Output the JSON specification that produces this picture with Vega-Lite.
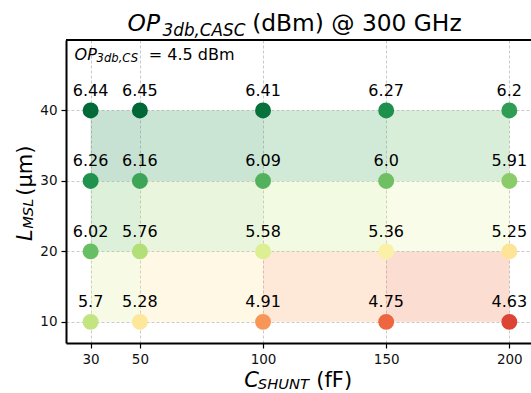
{
  "$schema": "https://vega.github.io/schema/vega-lite/v6.json",
  "width": 465,
  "height": 303,
  "autosize": {"type": "none"},
  "padding": {"left": 66, "top": 40, "right": 0, "bottom": 50},
  "background": "white",
  "config": {
    "view": {"stroke": null},
    "font": "DejaVu Sans",
    "axis": {
      "domainColor": "black", "domainWidth": 2,
      "tickColor": "black", "tickSize": 5, "tickWidth": 1.2,
      "labelFont": "DejaVu Sans", "labelFontSize": 13.5, "labelColor": "#111111", "labelPadding": 4,
      "grid": true, "gridColor": "#bbbbbb", "gridDash": [3, 2], "gridWidth": 0.8,
      "title": null
    }
  },
  "datasets": {
    "points": [
      {"c": 30, "l": 40, "v": 6.44, "label": "6.44"},
      {"c": 50, "l": 40, "v": 6.45, "label": "6.45"},
      {"c": 100, "l": 40, "v": 6.41, "label": "6.41"},
      {"c": 150, "l": 40, "v": 6.27, "label": "6.27"},
      {"c": 200, "l": 40, "v": 6.2, "label": "6.2"},
      {"c": 30, "l": 30, "v": 6.26, "label": "6.26"},
      {"c": 50, "l": 30, "v": 6.16, "label": "6.16"},
      {"c": 100, "l": 30, "v": 6.09, "label": "6.09"},
      {"c": 150, "l": 30, "v": 6.0, "label": "6.0"},
      {"c": 200, "l": 30, "v": 5.91, "label": "5.91"},
      {"c": 30, "l": 20, "v": 6.02, "label": "6.02"},
      {"c": 50, "l": 20, "v": 5.76, "label": "5.76"},
      {"c": 100, "l": 20, "v": 5.58, "label": "5.58"},
      {"c": 150, "l": 20, "v": 5.36, "label": "5.36"},
      {"c": 200, "l": 20, "v": 5.25, "label": "5.25"},
      {"c": 30, "l": 10, "v": 5.7, "label": "5.7"},
      {"c": 50, "l": 10, "v": 5.28, "label": "5.28"},
      {"c": 100, "l": 10, "v": 4.91, "label": "4.91"},
      {"c": 150, "l": 10, "v": 4.75, "label": "4.75"},
      {"c": 200, "l": 10, "v": 4.63, "label": "4.63"}
    ],
    "cells": [
      {"c0": 30, "c1": 50, "l0": 30, "l1": 40, "v": 6.33},
      {"c0": 50, "c1": 100, "l0": 30, "l1": 40, "v": 6.28},
      {"c0": 100, "c1": 150, "l0": 30, "l1": 40, "v": 6.19},
      {"c0": 150, "c1": 200, "l0": 30, "l1": 40, "v": 6.1},
      {"c0": 30, "c1": 50, "l0": 20, "l1": 30, "v": 6.05},
      {"c0": 50, "c1": 100, "l0": 20, "l1": 30, "v": 5.9},
      {"c0": 100, "c1": 150, "l0": 20, "l1": 30, "v": 5.76},
      {"c0": 150, "c1": 200, "l0": 20, "l1": 30, "v": 5.63},
      {"c0": 30, "c1": 50, "l0": 10, "l1": 20, "v": 5.69},
      {"c0": 50, "c1": 100, "l0": 10, "l1": 20, "v": 5.38},
      {"c0": 100, "c1": 150, "l0": 10, "l1": 20, "v": 5.15},
      {"c0": 150, "c1": 200, "l0": 10, "l1": 20, "v": 5.0}
    ]
  },
  "resolve": {"scale": {"color": "independent"}},
  "layer": [
    {
      "data": {"name": "cells"},
      "mark": {"type": "rect", "opacity": 0.24},
      "encoding": {
        "x": {"field": "c0", "type": "quantitative", "scale": {"domain": [20, 208.8], "nice": false, "zero": false},
              "axis": {"values": [30, 50, 100, 150, 200]}},
        "x2": {"field": "c1"},
        "y": {"field": "l0", "type": "quantitative", "scale": {"domain": [7, 50], "nice": false, "zero": false},
              "axis": {"values": [10, 20, 30, 40]}},
        "y2": {"field": "l1"},
        "color": {"field": "v", "type": "quantitative", "scale": {"scheme": "redyellowgreen", "domain": [4.63, 6.45]}, "legend": null}
      }
    },
    {
      "data": {"values": [{}]},
      "mark": {"type": "rule", "color": "black", "strokeWidth": 2},
      "encoding": {"y": {"datum": 50, "type": "quantitative"}}
    },
    {
      "data": {"name": "points"},
      "layer": [
        {
          "mark": {"type": "circle", "size": 254, "opacity": 1},
          "encoding": {
            "x": {"field": "c", "type": "quantitative"},
            "y": {"field": "l", "type": "quantitative"},
            "color": {"field": "v", "type": "quantitative", "scale": {"scheme": "redyellowgreen", "domain": [4.36, 6.45]}, "legend": null}
          }
        },
        {
          "mark": {"type": "text", "fontSize": 16, "baseline": "alphabetic", "dy": -14.5, "color": "black", "font": "DejaVu Sans"},
          "encoding": {
            "x": {"field": "c", "type": "quantitative"},
            "y": {"field": "l", "type": "quantitative"},
            "text": {"field": "label"}
          }
        }
      ]
    },
    {
      "data": {"values": [{}]},
      "layer": [
        {"mark": {"type": "text", "align": "left", "baseline": "alphabetic", "fontSize": 23.3, "fontStyle": "italic", "clip": false, "color": "black"},
         "encoding": {"x": {"datum": 45.0, "type": "quantitative"}, "y": {"datum": 51.28, "type": "quantitative"}, "text": {"value": "OP"}}},
        {"mark": {"type": "text", "align": "left", "baseline": "alphabetic", "fontSize": 16.8, "fontStyle": "italic", "clip": false, "color": "black"},
         "encoding": {"x": {"datum": 59.2, "type": "quantitative"}, "y": {"datum": 50.6, "type": "quantitative"}, "text": {"value": "3db,CASC"}}},
        {"mark": {"type": "text", "align": "left", "baseline": "alphabetic", "fontSize": 23.3, "clip": false, "color": "black"},
         "encoding": {"x": {"datum": 95.6, "type": "quantitative"}, "y": {"datum": 51.28, "type": "quantitative"}, "text": {"value": "(dBm) @ 300 GHz"}}},

        {"mark": {"type": "text", "align": "left", "baseline": "alphabetic", "fontSize": 16, "fontStyle": "italic", "clip": false, "color": "black"},
         "encoding": {"x": {"datum": 23.5, "type": "quantitative"}, "y": {"datum": 47.23, "type": "quantitative"}, "text": {"value": "OP"}}},
        {"mark": {"type": "text", "align": "left", "baseline": "alphabetic", "fontSize": 11.6, "fontStyle": "italic", "clip": false, "color": "black"},
         "encoding": {"x": {"datum": 32.4, "type": "quantitative"}, "y": {"datum": 46.84, "type": "quantitative"}, "text": {"value": "3db,CS"}}},
        {"mark": {"type": "text", "align": "left", "baseline": "alphabetic", "fontSize": 16, "clip": false, "color": "black"},
         "encoding": {"x": {"datum": 53.6, "type": "quantitative"}, "y": {"datum": 47.23, "type": "quantitative"}, "text": {"value": "= 4.5 dBm"}}},

        {"mark": {"type": "text", "align": "left", "baseline": "alphabetic", "fontSize": 21, "fontStyle": "italic", "clip": false, "color": "black"},
         "encoding": {"x": {"datum": 92.4, "type": "quantitative"}, "y": {"datum": 0.75, "type": "quantitative"}, "text": {"value": "C"}}},
        {"mark": {"type": "text", "align": "left", "baseline": "alphabetic", "fontSize": 14.7, "fontStyle": "italic", "clip": false, "color": "black"},
         "encoding": {"x": {"datum": 97.9, "type": "quantitative"}, "y": {"datum": 0.45, "type": "quantitative"}, "text": {"value": "SHUNT"}}},
        {"mark": {"type": "text", "align": "left", "baseline": "alphabetic", "fontSize": 21, "clip": false, "color": "black"},
         "encoding": {"x": {"datum": 121.6, "type": "quantitative"}, "y": {"datum": 0.75, "type": "quantitative"}, "text": {"value": "(fF)"}}},

        {"mark": {"type": "text", "align": "left", "baseline": "alphabetic", "angle": 270, "fontSize": 21, "fontStyle": "italic", "clip": false, "color": "black"},
         "encoding": {"x": {"datum": 6.0, "type": "quantitative"}, "y": {"datum": 21.48, "type": "quantitative"}, "text": {"value": "L"}}},
        {"mark": {"type": "text", "align": "left", "baseline": "alphabetic", "angle": 270, "fontSize": 14.7, "fontStyle": "italic", "clip": false, "color": "black"},
         "encoding": {"x": {"datum": 6.8, "type": "quantitative"}, "y": {"datum": 23.2, "type": "quantitative"}, "text": {"value": "MSL"}}},
        {"mark": {"type": "text", "align": "left", "baseline": "alphabetic", "angle": 270, "fontSize": 21, "clip": false, "color": "black"},
         "encoding": {"x": {"datum": 6.0, "type": "quantitative"}, "y": {"datum": 27.9, "type": "quantitative"}, "text": {"value": "(µm)"}}}
      ]
    }
  ]
}
